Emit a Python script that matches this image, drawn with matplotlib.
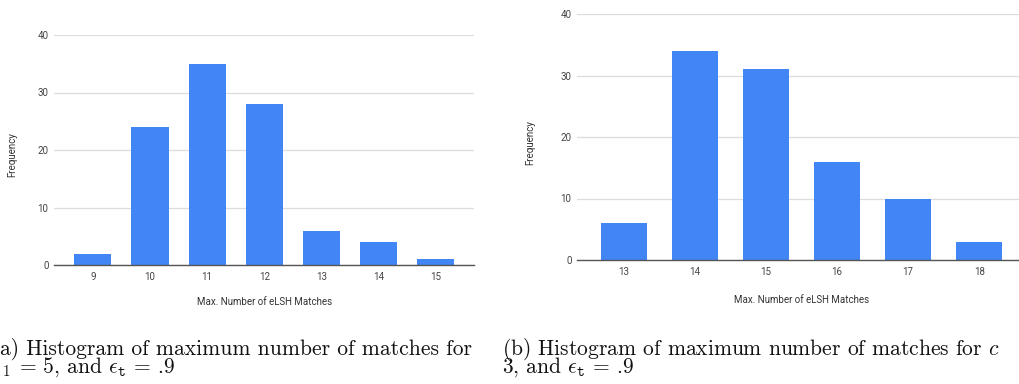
import matplotlib
matplotlib.use("Agg")
import matplotlib.pyplot as plt

# ---- data ----
left_categories = ["9", "10", "11", "12", "13", "14", "15"]
left_values = [2, 24, 35, 28, 6, 4, 1]
right_categories = ["13", "14", "15", "16", "17", "18"]
right_values = [6, 34, 31, 16, 10, 3]
y_ticks = [0, 10, 20, 30, 40]
x_label = "Max. Number of eLSH Matches"
y_label = "Frequency"
caption_a1 = "a) Histogram of maximum number of matches for"
caption_a2 = r"${}_1$ = 5, and $\epsilon_{\mathtt{t}}$ = .9"
caption_b1 = r"(b) Histogram of maximum number of matches for $c$"
caption_b2 = r"3, and $\epsilon_{\mathtt{t}}$ = .9"

W, H = 1019, 384
BLUE = "#4285F4"
plt.rcParams["font.family"] = ["Roboto", "DejaVu Sans"]
plt.rcParams["mathtext.fontset"] = "cm"

fig = plt.figure(figsize=(W / 100, H / 100), dpi=100)


def px_axes(x0, x1, ytop, ybot):
    return fig.add_axes([x0 / W, 1 - ybot / H, (x1 - x0) / W, (ybot - ytop) / H])


def draw(ax, cats, vals, xlim):
    xs = list(range(len(cats)))
    ax.bar(xs, vals, width=0.65, color=BLUE, zorder=3)
    ax.set_xlim(*xlim)
    ax.set_ylim(0, 40)
    ax.set_yticks(y_ticks)
    ax.set_xticks(xs)
    ax.set_xticklabels(cats)
    ax.grid(axis="y", color="#dcdcdc", linewidth=0.9, zorder=0)
    for s in ["top", "right", "left"]:
        ax.spines[s].set_visible(False)
    ax.spines["bottom"].set_color("#555555")
    ax.spines["bottom"].set_linewidth(1.0)
    ax.spines["bottom"].set_zorder(4)
    ax.tick_params(axis="both", length=0, labelsize=7, labelcolor="#444444")
    ax.tick_params(axis="y", pad=4)
    ax.tick_params(axis="x", pad=5)
    ax.set_facecolor("none")


axL = px_axes(54, 474, 35, 265)
draw(axL, left_categories, left_values, (-0.68, 6.67))
axR = px_axes(577, 1026, 14, 260)
draw(axR, right_categories, right_values, (-0.66, 5.66))

lab_kw = dict(fontsize=7, color="#333333")
fig.text(265 / W, 1 - 302 / H, x_label, ha="center", va="center", **lab_kw)
fig.text(802 / W, 1 - 300 / H, x_label, ha="center", va="center", **lab_kw)
fig.text(12 / W, 1 - 155 / H, y_label, ha="center", va="center", rotation=90, **lab_kw)
fig.text(530 / W, 1 - 143 / H, y_label, ha="center", va="center", rotation=90, **lab_kw)

cap_kw = dict(fontsize=15.5, color="#111111", family="cmr10", va="baseline")
fig.text(0 / W, 1 - 355 / H, caption_a1, ha="left", **cap_kw)
fig.text(175 / W, 1 - 373 / H, caption_a2, ha="right", **cap_kw)
fig.text(502 / W, 1 - 355 / H, caption_b1, ha="left", **cap_kw)
fig.text(502 / W, 1 - 373 / H, caption_b2, ha="left", **cap_kw)

fig.savefig("out.png", dpi=100, facecolor="white")
